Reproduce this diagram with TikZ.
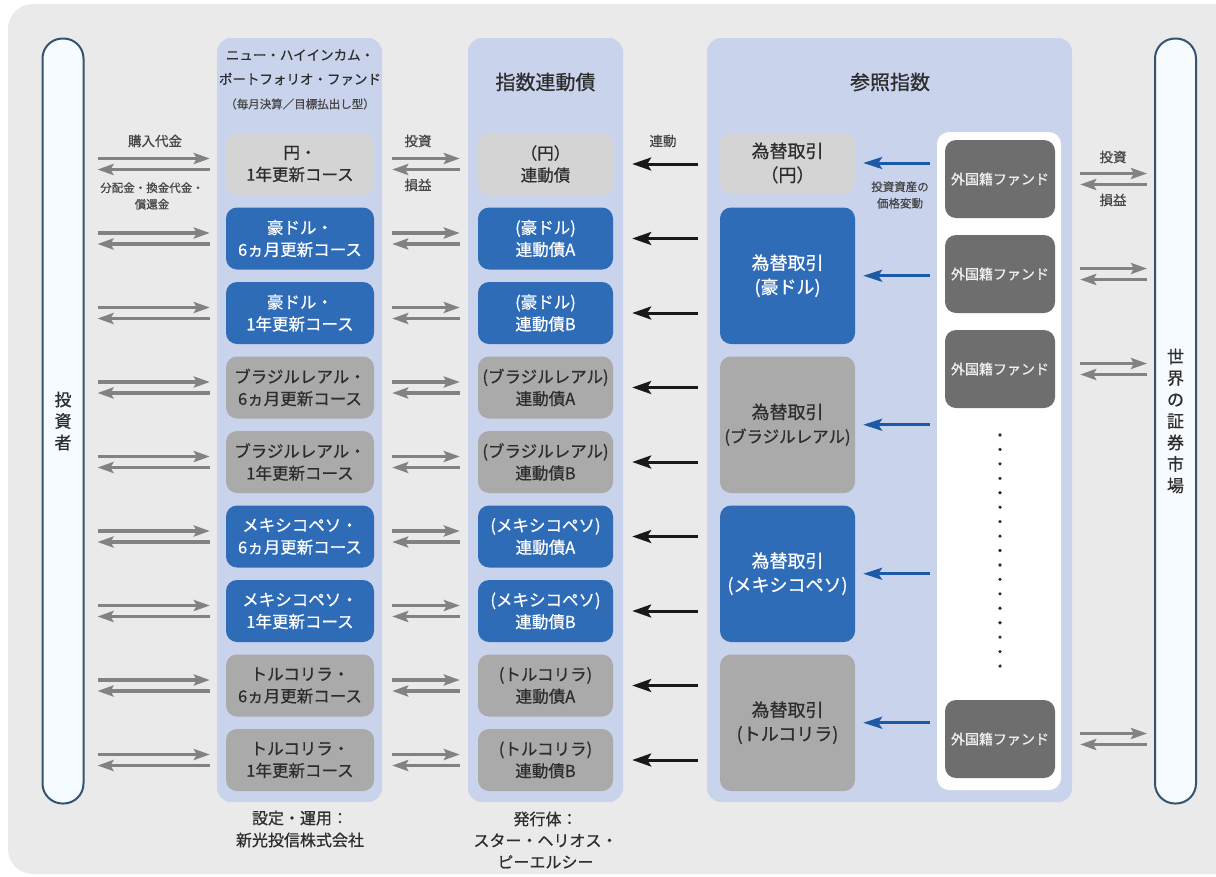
\documentclass[tikz,border=0pt]{standalone}
\usepackage{fontspec}
\setmainfont{Noto Sans CJK JP}[FakeBold=0.7]
\usetikzlibrary{arrows.meta,calc}
\definecolor{bggray}{RGB}{234,234,234}
\definecolor{panelblue}{RGB}{201,211,236}
\definecolor{boxblue}{RGB}{46,108,184}
\definecolor{boxgray}{RGB}{170,170,170}
\definecolor{boxlight}{RGB}{212,212,212}
\definecolor{ffgray}{RGB}{110,110,110}
\definecolor{pillline}{RGB}{52,83,110}
\definecolor{pillfill}{RGB}{246,251,255}
\definecolor{arrowgray}{RGB}{130,130,130}
\definecolor{arrowblue}{RGB}{28,90,165}
\definecolor{txt}{RGB}{45,45,45}
\definecolor{lbl}{RGB}{70,70,70}
\newcommand\myfs[2]{\fontsize{#1}{#2}\selectfont}
\begin{document}
\begin{tikzpicture}[x=1pt,y=-1pt,
  panel/.style={fill=panelblue, rounded corners=14pt, inner sep=0},
  pill/.style={draw=pillline, line width=2pt, fill=pillfill, rounded corners=20pt, minimum width=41, minimum height=765, inner sep=0, align=center, font=\myfs{17}{21.5}, text=txt},
  cbox/.style={rounded corners=11pt, minimum height=62, inner sep=0, align=center, font=\myfs{16.5}{22}},
  fundbox/.style={cbox, minimum width=148},
  bondbox/.style={cbox, minimum width=135},
  fxbox/.style={cbox, minimum width=135, font=\myfs{18}{24}},
  blu/.style={fill=boxblue, text=white},
  gry/.style={fill=boxgray, text=txt},
  lgt/.style={fill=boxlight, text=txt},
  ff/.style={fill=ffgray, text=white!88!gray, rounded corners=11pt, minimum width=110, minimum height=78, inner sep=0, font=\myfs{14}{16}},
  lab/.style={text=lbl, font=\myfs{13.5}{16}, inner sep=0},
  slab/.style={text=lbl, font=\myfs{11.5}{16.5}, align=center, inner sep=0},
  ttl/.style={text=txt, align=center, inner sep=0},
  garrow/.style={draw=arrowgray, line width=3.6pt, -{Stealth[length=16pt,width=11pt,inset=3pt]}},
  karrow/.style={draw=black!90, line width=3pt, -{Stealth[length=19pt,width=13pt,inset=4pt]}},
  barrow/.style={draw=arrowblue, line width=3pt, -{Stealth[length=19pt,width=12pt,inset=4pt]}}
]
\useasboundingbox (0,0) rectangle (1216,876);
\fill[white] (0,0) rectangle (1216,876);
\fill[bggray, rounded corners=25pt] (8,4) rectangle (1245,874);

% panels
\node[panel, minimum width=165, minimum height=764] (fp) at (299.5,420) {};
\node[panel, minimum width=155, minimum height=764] (bp) at (545.5,420) {};
\node[panel, minimum width=365, minimum height=764] (rp) at (889.5,420) {};
\node[fill=white, rounded corners=12pt, minimum width=124, minimum height=658, inner sep=0] (wp) at (999,461) {};

% pills
\node[pill] (inv) at (63,421) {投\\資\\者};
\node[pill] (mkt) at (1175.5,421) {世\\界\\の\\証\\券\\市\\場};

% titles
\node[ttl, font=\myfs{13.5}{24}] (ft1) at (300,55) {ニュー・ハイインカム・};
\node[ttl, font=\myfs{13.5}{24}] (ft2) at (300,79) {ポートフォリオ・ファンド};
\node[ttl, font=\myfs{11.5}{16}, text=lbl] (ft3) at (300,104) {（毎月決算／目標払出し型）};
\node[ttl, font=\myfs{20}{24}] (bt) at (545.5,82) {指数連動債};
\node[ttl, font=\myfs{20}{24}] (rt) at (890,82) {参照指数};

% fund boxes
\node[fundbox, lgt] (f1) at (300,164)   {円・\\1年更新コース};
\node[fundbox, blu] (f2) at (300,238.5) {豪ドル・\\6ヵ月更新コース};
\node[fundbox, blu] (f3) at (300,313)   {豪ドル・\\1年更新コース};
\node[fundbox, gry] (f4) at (300,387.5) {ブラジルレアル・\\6ヵ月更新コース};
\node[fundbox, gry] (f5) at (300,462)   {ブラジルレアル・\\1年更新コース};
\node[fundbox, blu] (f6) at (300,536.5) {メキシコペソ・\\6ヵ月更新コース};
\node[fundbox, blu] (f7) at (300,611)   {メキシコペソ・\\1年更新コース};
\node[fundbox, gry] (f8) at (300,685.5) {トルコリラ・\\6ヵ月更新コース};
\node[fundbox, gry] (f9) at (300,760)   {トルコリラ・\\1年更新コース};

% bond boxes
\node[bondbox, lgt] (b1) at (545.5,164)   {（円）\\連動債};
\node[bondbox, blu] (b2) at (545.5,238.5) {(豪ドル)\\連動債A};
\node[bondbox, blu] (b3) at (545.5,313)   {(豪ドル)\\連動債B};
\node[bondbox, gry] (b4) at (545.5,387.5) {(ブラジルレアル)\\連動債A};
\node[bondbox, gry] (b5) at (545.5,462)   {(ブラジルレアル)\\連動債B};
\node[bondbox, blu] (b6) at (545.5,536.5) {(メキシコペソ)\\連動債A};
\node[bondbox, blu] (b7) at (545.5,611)   {(メキシコペソ)\\連動債B};
\node[bondbox, gry] (b8) at (545.5,685.5) {(トルコリラ)\\連動債A};
\node[bondbox, gry] (b9) at (545.5,760)   {(トルコリラ)\\連動債B};

% forex boxes
\node[fxbox, lgt, minimum height=60] (x1) at (787.5,163) {為替取引\\（円）};
\node[fxbox, blu, minimum height=136.5] (x2) at (787.5,275.75) {為替取引\\(豪ドル)};
\node[fxbox, gry, minimum height=136.5] (x3) at (787.5,424.75) {為替取引\\{\myfs{16.5}{24}(ブラジルレアル)}};
\node[fxbox, blu, minimum height=136.5] (x4) at (787.5,573.75) {為替取引\\(メキシコペソ)};
\node[fxbox, gry, minimum height=136.5] (x5) at (787.5,722.75) {為替取引\\(トルコリラ)};

% foreign funds
\node[ff] (g1) at (1000,179) {外国籍ファンド};
\node[ff] (g2) at (1000,274) {外国籍ファンド};
\node[ff] (g3) at (1000,369) {外国籍ファンド};
\node[ff] (g4) at (1000,739) {外国籍ファンド};
\foreach \k in {0,...,16} \fill[txt] (1000,{435+\k*14.44}) circle (1.8);

% investor <-> fund arrows
\foreach \f in {f1,f2,f3,f4,f5,f6,f7,f8,f9}{
  \draw[garrow, shorten <=13pt, shorten >=16pt] ([yshift=5.5pt]\f.west -| inv.east) -- ([yshift=5.5pt]\f.west);
  \draw[garrow, shorten <=16pt, shorten >=13pt] ([yshift=-5.5pt]\f.west) -- ([yshift=-5.5pt]\f.west -| inv.east);
}
% fund <-> bond arrows
\foreach \f/\b in {f1/b1,f2/b2,f3/b3,f4/b4,f5/b5,f6/b6,f7/b7,f8/b8,f9/b9}{
  \draw[garrow, shorten <=18pt, shorten >=18pt] ([yshift=5.5pt]\f.east) -- ([yshift=5.5pt]\b.west);
  \draw[garrow, shorten <=18pt, shorten >=18pt] ([yshift=-5.5pt]\b.west) -- ([yshift=-5.5pt]\f.east);
}
% forex -> bond arrows
\foreach \b/\x in {b1/x1,b2/x2,b3/x2,b4/x3,b5/x3,b6/x4,b7/x4,b8/x5,b9/x5}{
  \draw[karrow, shorten <=22pt, shorten >=19pt] (\b.east -| \x.west) -- (\b.east);
}
% foreign fund panel -> forex arrows
\foreach \x in {x1,x2,x3,x4,x5}{
  \draw[barrow, shorten <=7pt, shorten >=8pt] (\x.east -| wp.west) -- (\x.east);
}
% foreign fund <-> market arrows
\foreach \g in {g1,g2,g3,g4}{
  \draw[garrow, shorten <=25pt, shorten >=7pt] ([yshift=5.5pt]\g.east) -- ([yshift=5.5pt]\g.east -| mkt.west);
  \draw[garrow, shorten <=7pt, shorten >=25pt] ([yshift=-5.5pt]\g.east -| mkt.west) -- ([yshift=-5.5pt]\g.east);
}

% arrow labels
\node[lab] (l1) at (155,141) {購入代金};
\node[slab] (l2) at (152,196) {分配金・換金代金・\\償還金};
\node[lab] (l3) at (418,141) {投資};
\node[lab] (l4) at (418,185) {損益};
\node[lab] (l5) at (663,141) {連動};
\node[slab] (l6) at (900,195) {投資資産の\\価格変動};
\node[lab] (l7) at (1113,157) {投資};
\node[lab] (l8) at (1113,200) {損益};

% bottom notes
\node[ttl, font=\myfs{16}{22}] (n1) at (300,829) {設定・運用：\\新光投信株式会社};
\node[ttl, font=\myfs{16}{21.5}] (n2) at (545.5,840) {発行体：\\スター・ヘリオス・\\ピーエルシー};
\end{tikzpicture}
\end{document}
